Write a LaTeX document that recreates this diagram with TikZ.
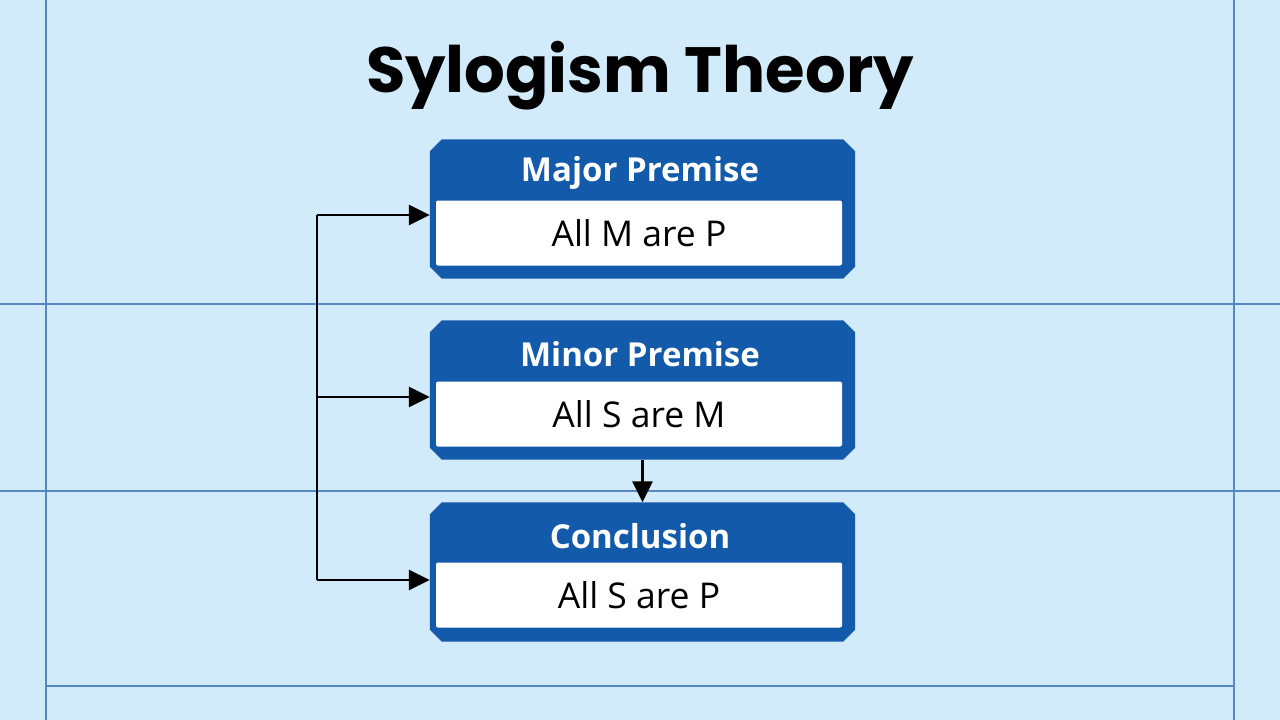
\documentclass[tikz,border=0pt]{standalone}
\usepackage{fontspec}
\setmainfont{Open Sans}
\newfontfamily\titlefont{Poppins}
\usetikzlibrary{arrows.meta,calc}
\definecolor{bgblue}{RGB}{210,235,250}
\definecolor{gridblue}{RGB}{88,136,194}
\definecolor{boxblue}{RGB}{20,90,170}
\newcommand{\chambox}[1]{%
  \fill[boxblue] ($(#1.north west)+(12,0)$) -- ($(#1.north east)+(-12,0)$) -- ($(#1.north east)+(0,12)$)
    -- ($(#1.south east)+(0,-12)$) -- ($(#1.south east)+(-12,0)$) -- ($(#1.south west)+(12,0)$)
    -- ($(#1.south west)+(0,-12)$) -- ($(#1.north west)+(0,12)$) -- cycle;}
\begin{document}
\begin{tikzpicture}[x=1pt,y=-1pt,
  outerbox/.style={draw=none, minimum width=425pt, minimum height=139pt, inner sep=0pt},
  headtxt/.style={text=white, font=\fontsize{33}{38}\selectfont\bfseries, inner sep=0pt},
  whitebox/.style={fill=white, rounded corners=2pt, minimum width=406pt, minimum height=65pt, inner sep=0pt,
    font=\fontsize{35.5}{40}\selectfont, text=black},
  titletxt/.style={font=\titlefont\fontsize{64}{74}\selectfont\bfseries, text=black, inner sep=0pt},
  gridline/.style={draw=gridblue, line width=1.1pt},
  conn/.style={draw=black, line width=2.7pt},
  arr/.style={conn, -{Triangle[length=21pt,width=20pt]}}
]
\useasboundingbox (0,0) rectangle (1280,720);
\fill[bgblue] (0,0) rectangle (1280,720);
% grid lines
\draw[gridline] (46,0) -- (46,720);
\draw[gridline] (1234,0) -- (1234,720);
\draw[gridline] (0,304) -- (1280,304);
\draw[gridline] (0,491) -- (1280,491);
\draw[gridline] (46,686) -- (1234,686);
% title
\node[titletxt] (title) at (640,76) {Sylogism Theory};
% boxes
\node[outerbox] (maj) at (642.5,209) {};
\chambox{maj}
\node[headtxt] (majh) at (640,173) {Major Premise};
\node[whitebox] (majb) at (639,233) {All M are P};

\node[outerbox] (min) at (642.5,390) {};
\chambox{min}
\node[headtxt] (minh) at (640,354) {Minor Premise};
\node[whitebox] (minb) at (639,414) {All S are M};

\node[outerbox] (con) at (642.5,572) {};
\chambox{con}
\node[headtxt] (conh) at (640,536) {Conclusion};
\node[whitebox] (conb) at (639,595) {All S are P};
% connectors
\coordinate (j1) at (317,215);
\coordinate (j2) at (317,397);
\coordinate (j3) at (317,580);
\draw[conn] (j1) -- (j3);
\draw[arr] (j1) -- (j1 -| maj.west);
\draw[arr] (j2) -- (j2 -| min.west);
\draw[arr] (j3) -- (j3 -| con.west);
\draw[arr] (min.south) -- (con.north);
\end{tikzpicture}
\end{document}
